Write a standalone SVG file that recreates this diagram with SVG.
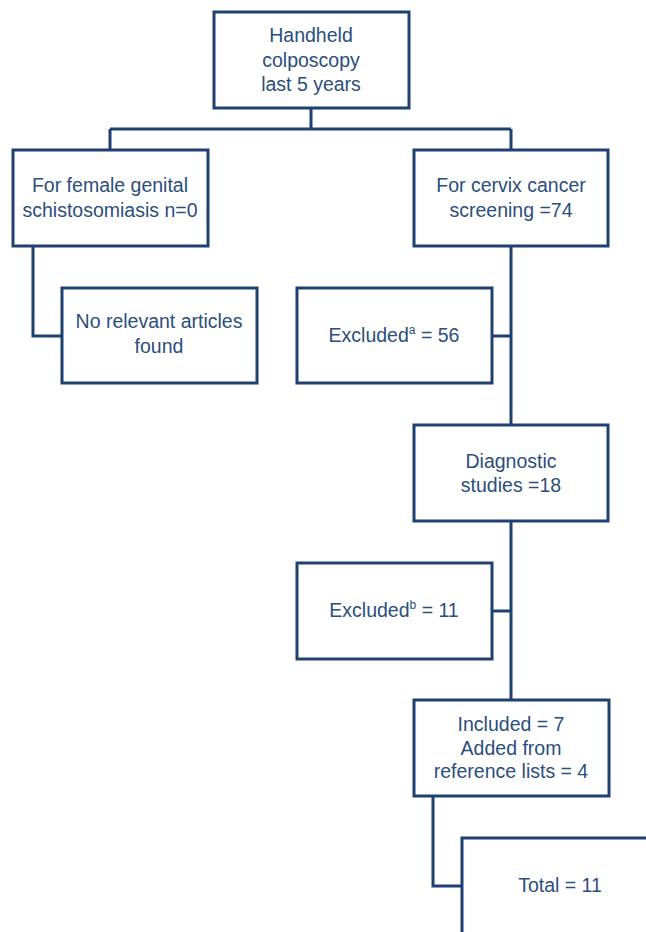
<svg xmlns="http://www.w3.org/2000/svg" width="646" height="932" viewBox="0 0 646 932">
<style>
.box{fill:#fff;stroke:#1f4171;stroke-width:3}
.ln{fill:none;stroke:#1f4171;stroke-width:3}
text{font-family:"Liberation Sans",Arial,sans-serif;font-size:19.5px;fill:#2b4e7e;text-anchor:middle}
.sup{font-size:12px}
</style>
<rect width="646" height="932" fill="#fff"/>
<g id="connectors">
<path class="ln" d="M311,108 V129 M110,129 H511 M110,129 V150 M511,129 V150"/>
<path class="ln" d="M33,247 V336 H62"/>
<path class="ln" d="M511,247 V425 M492,336 H511"/>
<path class="ln" d="M511,522 V700 M492,611 H511"/>
<path class="ln" d="M433,797 V886 H462"/>
</g>
<g id="n_top"><rect class="box" x="214" y="12" width="195" height="96"/>
<text x="311" y="42">Handheld</text><text x="311" y="67">colposcopy</text><text x="311" y="91">last 5 years</text></g>
<g id="n_fgs"><rect class="box" x="13" y="150" width="195" height="96"/>
<text x="110" y="192">For female genital</text><text x="110" y="217">schistosomiasis n=0</text></g>
<g id="n_norel"><rect class="box" x="62" y="288" width="195" height="95"/>
<text x="159" y="328">No relevant articles</text><text x="159" y="353">found</text></g>
<g id="n_ccs"><rect class="box" x="414" y="150" width="194" height="96"/>
<text x="511" y="192">For cervix cancer</text><text x="511" y="217">screening =74</text></g>
<g id="n_exa"><rect class="box" x="297" y="288" width="195" height="95"/>
<text x="394" y="342">Excluded<tspan class="sup" dy="-8">a</tspan><tspan dy="8"> = 56</tspan></text></g>
<g id="n_diag"><rect class="box" x="414" y="425" width="194" height="96"/>
<text x="511" y="468">Diagnostic</text><text x="511" y="492">studies =18</text></g>
<g id="n_exb"><rect class="box" x="297" y="563" width="195" height="96"/>
<text x="394" y="617">Excluded<tspan class="sup" dy="-8">b</tspan><tspan dy="8"> = 11</tspan></text></g>
<g id="n_inc"><rect class="box" x="414" y="700" width="195" height="96"/>
<text x="511" y="731">Included = 7</text><text x="511" y="755">Added from</text><text x="511" y="778">reference lists = 4</text></g>
<g id="n_total"><rect class="box" x="462" y="838" width="200" height="100"/>
<text x="560" y="892">Total = 11</text></g>
</svg>
